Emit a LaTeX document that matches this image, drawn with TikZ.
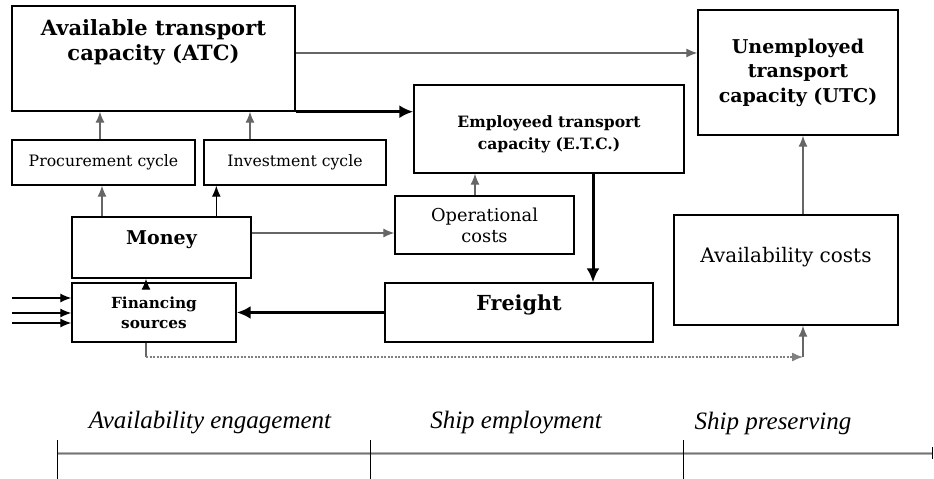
\documentclass[tikz,border=0pt]{standalone}
\usepackage{amsmath,amssymb}
\usepackage{xcolor}
\usepackage{fontspec}
\setmainfont{DejaVu Serif}
\newfontfamily\phasefont{Liberation Serif}
\usetikzlibrary{arrows.meta}

\tikzset{box/.style={draw,line width=1.4pt,inner sep=0pt,align=center},
  thinarr/.style={-{Latex[length=11pt,width=9pt]},draw=gray!80!black,line width=1.1pt},
  blkarr/.style={-{Latex[length=11pt,width=9pt]},line width=1.2pt},
  fatarr/.style={-{Latex[length=14pt,width=13pt]},line width=3pt}}

\begin{document}
\begin{tikzpicture}[x=1pt,y=-1pt]
    \useasboundingbox (0,0) rectangle (934,479);
    % boxes
    \node[box,minimum width=283,minimum height=105] (atc) at (153.5,58.5) {};
    \node[align=center,font=\bfseries\fontsize{21}{25}\selectfont] (atctext) at (153.5,42) {Available transport\\capacity (ATC)};
    \node[box,minimum width=200,minimum height=125,font=\bfseries\fontsize{19}{24.5}\selectfont] (utc) at (798,72.5) {Unemployed\\transport\\capacity (UTC)};
    \node[box,minimum width=183,minimum height=45,font=\fontsize{15.7}{20}\selectfont] (proc) at (103.5,162.5) {Procurement cycle};
    \node[box,minimum width=182,minimum height=45,font=\fontsize{15.7}{20}\selectfont] (inv) at (295,162.5) {Investment cycle};
    \node[box,minimum width=270,minimum height=88] (etc) at (549,129) {};
    \node[align=center,font=\bfseries\fontsize{15.6}{22}\selectfont] (etctext) at (549,134) {Employeed transport\\capacity (E.T.C.)};
    \node[box,minimum width=179,minimum height=58,font=\fontsize{17.8}{21}\selectfont] (op) at (484.5,225) {Operational\\costs};
    \node[box,minimum width=179,minimum height=61] (money) at (161.5,247.5) {};
    \node[font=\bfseries\fontsize{19}{24}\selectfont] (moneytext) at (161.5,240) {Money};
    \node[box,minimum width=224,minimum height=110] (avail) at (786,270) {};
    \node[font=\fontsize{20}{24}\selectfont] (availtext) at (786,257) {Availability costs};
    \node[box,minimum width=164,minimum height=59,font=\bfseries\fontsize{15.3}{20}\selectfont] (fin) at (154,312.5) {Financing\\sources};
    \node[box,minimum width=268,minimum height=59] (freight) at (519,312.5) {};
    \node[font=\bfseries\fontsize{20.7}{24}\selectfont] (freighttext) at (519,305) {Freight};
    % connectors
    \draw[thinarr] ([yshift=5.5]atc.east) -- ([yshift=5.5]atc.east -| utc.west);
    \draw[fatarr] (atc.south east) -- (atc.south east -| etc.west);
    \draw[thinarr] ([xshift=-3.5]proc.north) -- ([xshift=-3.5]proc.north |- atc.south);
    \draw[thinarr] ([xshift=-45]inv.north) -- ([xshift=-45]inv.north |- atc.south);
    \draw[thinarr] ([xshift=-1.5]proc.south |- money.north) -- ([xshift=-1.5]proc.south);
    \draw[blkarr] ([xshift=13]inv.south west |- money.north) -- ([xshift=13]inv.south west);
    \draw[thinarr] ([yshift=14.5]money.east) -- ([yshift=14.5]money.east -| op.west);
    \draw[thinarr] ([xshift=-9.5]op.north) -- ([xshift=-9.5]op.north |- etc.south);
    \draw[thinarr] ([xshift=17]avail.north) -- ([xshift=17]avail.north |- utc.south);
    \draw[fatarr] ([xshift=44]etc.south) -- ([xshift=44]etc.south |- freight.north);
    \draw[fatarr] (freight.west) -- (fin.east);
    \draw[blkarr] ([xshift=-8]fin.north) -- ([xshift=-8]fin.north |- money.south);
    % inputs
    \coordinate (in1) at (12,298);\coordinate (in2) at (12,313);\coordinate (in3) at (12,323);
    \foreach \i in {in1,in2,in3} \draw[blkarr] (\i) -- (\i -| fin.west);
    % dotted return
    \coordinate (dotend) at (803,357);
    \draw[line width=1.1pt,gray!80!black] ([xshift=-8]fin.south) -- ([xshift=-8]fin.south |- dotend) coordinate (dotstart);
    \draw[-{Latex[length=11pt,width=9pt]},line width=1.3pt,gray,dash pattern=on 2pt off 1.5pt] (dotstart) -- (dotend);
    \draw[thinarr] (dotend) -- (dotend |- avail.south);
    % time line
    \coordinate (t0) at (57,453);\coordinate (t1) at (370,453);\coordinate (t2) at (683,453);\coordinate (t3) at (932,453);
    \draw[line width=3pt,gray!60] (t0) -- (t3);\draw[line width=0.8pt,gray!90!black] (t0) -- (t3);
    \foreach \t in {t0,t1,t2} \draw[line width=1pt] ([yshift=13]\t) -- ([yshift=-26]\t);
    \draw[line width=1pt] ([yshift=6]t3) -- ([yshift=-6]t3);
    \node[font=\phasefont\itshape\fontsize{25}{27}\selectfont] (lab1) at (210,423) {Availability engagement};
    \node[font=\phasefont\itshape\fontsize{25}{27}\selectfont] (lab2) at (516,423) {Ship employment};
    \node[font=\phasefont\itshape\fontsize{25}{27}\selectfont] (lab3) at (773,423) {Ship preserving};
\end{tikzpicture}
\end{document}
